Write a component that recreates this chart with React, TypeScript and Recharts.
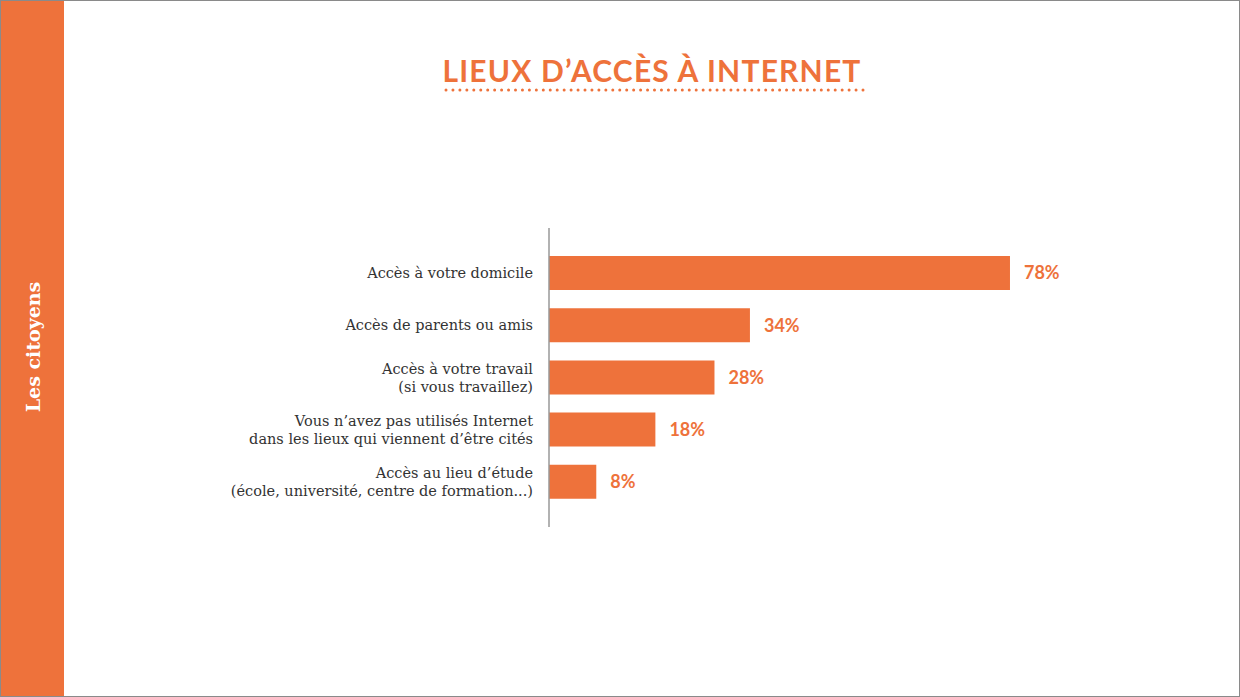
import { BarChart, Bar, XAxis, YAxis, LabelList, Cell } from 'recharts';

const ORANGE = '#EE723B';

// categories (each line of the label is an entry)
const categories: string[][] = [
    ['Accès à votre domicile'],
    ['Accès de parents ou amis'],
    ['Accès à votre travail', '(si vous travaillez)'],
    ["Vous n’avez pas utilisés Internet", "dans les lieux qui viennent d’être cités"],
    ["Accès au lieu d’étude", '(école, université, centre de formation...)'],
];
const values = [78, 34, 28, 18, 8];

const chartData = categories.map((lines, i) => ({
    name: lines.join('\n'),
    value: values[i],
}));

const CategoryTick = ({ x, y, payload }: any) => {
    const lines = String(payload.value).split('\n');
    const lineHeight = 18;
    const startY = y - ((lines.length - 1) * lineHeight) / 2;
    return (
        <text
            x={x - 8}
            y={startY}
            textAnchor="end"
            dominantBaseline="central"
            fill="#333"
            style={{ fontFamily: 'DejaVu Serif', fontSize: 14.5 }}
        >
            {lines.map((line, i) => (
                <tspan key={i} x={x - 8} y={startY + i * lineHeight} dominantBaseline="central">
                    {line}
                </tspan>
            ))}
        </text>
    );
};

export default function App() {
    return (
        <div style={{ position: 'absolute', left: 0, top: 0, width: 1240, height: 697, background: '#fff', overflow: 'hidden' }}>
            {/* left band */}
            <div style={{ position: 'absolute', left: 0, top: 0, width: 64, height: 697, background: ORANGE }}>
                <div style={{
                    position: 'absolute',
                    left: 33,
                    top: 347,
                    transform: 'translate(-50%, -50%) rotate(-90deg)',
                    whiteSpace: 'nowrap',
                    color: '#fff',
                    fontFamily: 'DejaVu Serif',
                    fontWeight: 700,
                    fontSize: 19,
                }}>
                    Les citoyens
                </div>
            </div>

            {/* title */}
            <div style={{
                position: 'absolute',
                left: 352,
                width: 600,
                top: 52,
                textAlign: 'center',
                color: ORANGE,
                fontFamily: 'Lato',
                fontWeight: 700,
                fontSize: 30,
                letterSpacing: 1.2,
                lineHeight: '36px',
            }}>
                LIEUX D’ACCÈS À INTERNET
            </div>
            <svg style={{ position: 'absolute', left: 440, top: 86 }} width={430} height={8}>
                <line x1={6} y1={4} x2={424} y2={4} stroke={ORANGE} strokeWidth={3} strokeLinecap="round" strokeDasharray="0 6.95" />
            </svg>

            <div style={{ position: 'absolute', left: 0, top: 0 }}>
                <BarChart
                    width={1240}
                    height={697}
                    data={chartData}
                    layout="vertical"
                    margin={{ top: 228, right: 100, bottom: 170, left: 0 }}
                    barSize={34}
                >
                    <XAxis type="number" domain={[0, 100]} hide />
                    <YAxis
                        type="category"
                        dataKey="name"
                        width={549}
                        axisLine={{ stroke: '#999', strokeWidth: 1.5 }}
                        tickLine={false}
                        tick={<CategoryTick />}
                        padding={{ top: 19, bottom: 19 }}
                        interval={0}
                    />
                    <Bar dataKey="value" fill={ORANGE} isAnimationActive={false}>
                        {chartData.map((_, i) => (
                            <Cell key={i} fill={ORANGE} />
                        ))}
                        <LabelList
                            dataKey="value"
                            position="right"
                            offset={14}
                            formatter={(v: any) => `${v}%`}
                            style={{ fill: ORANGE, fontFamily: 'Lato', fontWeight: 700, fontSize: 18 }}
                        />
                    </Bar>
                </BarChart>
            </div>

            {/* frame */}
            <div style={{ position: 'absolute', left: 0, top: 0, width: 1240, height: 697, boxSizing: 'border-box', border: '1px solid #8a8a8a', pointerEvents: 'none' }} />
        </div>
    );
}
